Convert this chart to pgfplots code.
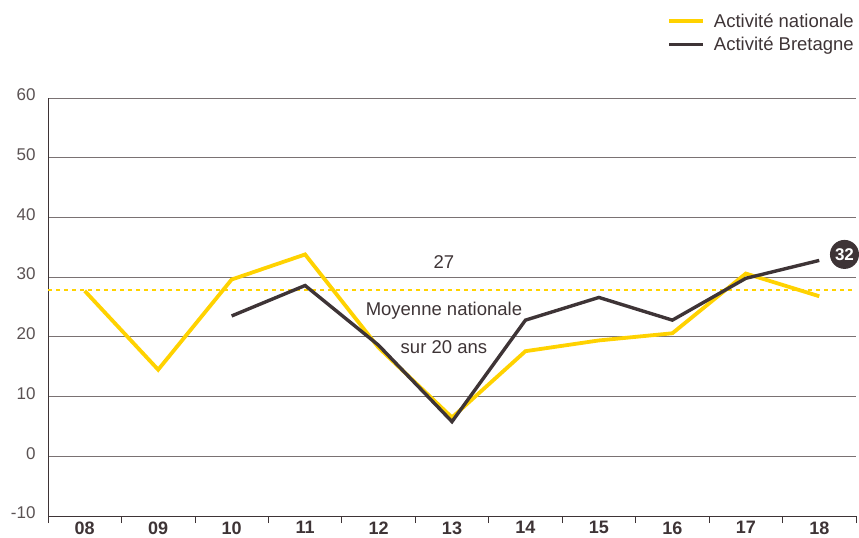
\documentclass[border=0pt]{standalone}
\usepackage{fontspec}
\setmainfont{Liberation Sans}
\usepackage{pgfplots}
\pgfplotsset{compat=1.18}
\definecolor{jaune}{HTML}{FFD200}
\definecolor{brun}{HTML}{3E3436}
\definecolor{grille}{HTML}{7A7273}
\definecolor{gristxt}{HTML}{5A5253}
\begin{document}
\begin{tikzpicture}
\begin{axis}[
  scale only axis,
  width=808bp, height=418bp,
  xmin=-0.5, xmax=10.5,
  ymin=-10, ymax=60,
  ytick={-10,0,...,60},
  xtick={0,...,10},
  xticklabels={08,09,10,11,12,13,14,15,16,17,18},
  minor xtick={-0.5,0.5,...,10.5},
  major tick length=0pt,
  minor tick length=7bp,
  tick align=outside,
  tick style={brun, line width=0.8bp},
  axis x line*=bottom,
  axis y line*=left,
  axis line style={-, brun, line width=1bp},
  ymajorgrids,
  major grid style={grille, line width=0.8bp},
  /pgf/number format/assume math mode=true,
  yticklabel style={font=\fontsize{17bp}{19bp}\selectfont, text=gristxt, xshift=-9bp, yshift=3bp},
  xticklabel style={font=\fontsize{18bp}{20bp}\selectfont\bfseries, text=brun, yshift=-2bp},
  clip=false,
  legend style={at={(1,1.207)}, anchor=north east, draw=none, fill=none,
    font=\fontsize{18.5bp}{20bp}\selectfont, text=brun, inner sep=0pt,
    row sep=4bp, cells={anchor=west}},
  legend cell align=left,
  legend image code/.code={\draw[#1] (0bp,0bp) -- (34bp,0bp); \path (41bp,0bp);},
]
\addplot[jaune, line width=2.2bp, dash pattern=on 4bp off 4bp, forget plot] coordinates {(-0.5,27.8) (10.5,27.8)};
\addplot[jaune, line width=3.8bp] coordinates {
(0,27.7) (1,14.5) (2,29.6) (3,33.8) (4,18.2) (5,6.5) (6,17.6) (7,19.4) (8,20.6) (9,30.6) (10,26.8)};
\addlegendentry{Activité nationale}
\addplot[brun, line width=3.4bp] coordinates {
(2,23.5) (3,28.6) (4,18.6) (5,5.8) (6,22.8) (7,26.6) (8,22.8) (9,29.8) (10,32.8)}
node[pos=1, anchor=west, circle, fill=brun, text=white, inner sep=0pt, minimum size=29bp, xshift=9bp, yshift=6bp, font=\fontsize{17bp}{19bp}\selectfont\bfseries] {32};
\addlegendentry{Activité Bretagne}
\node[text=brun, font=\fontsize{18.5bp}{20bp}\selectfont] at (axis cs:4.89,32.5) {27};
\node[text=brun, font=\fontsize{18.5bp}{20bp}\selectfont] at (axis cs:4.89,24.3) {Moyenne nationale};
\node[text=brun, font=\fontsize{18.5bp}{20bp}\selectfont] at (axis cs:4.89,18.3) {sur 20 ans};
\end{axis}
\pgfresetboundingbox
\path[use as bounding box] (-48bp,-22bp) rectangle (811bp,516bp);
\end{tikzpicture}
\end{document}
